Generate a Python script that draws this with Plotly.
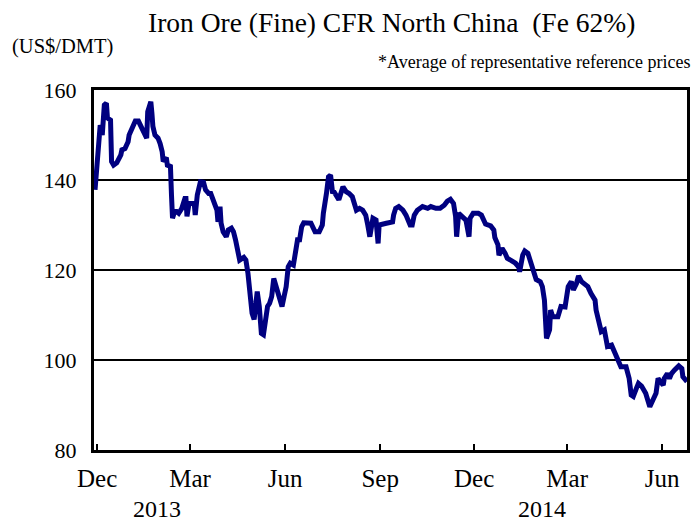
import pandas as pd
import plotly.graph_objects as go

# Day offsets from 2012-11-28 and price (US$/DMT)
day_offset = [1, 3, 5, 6, 8, 10, 12, 13, 16, 17, 19, 22, 26, 27, 30, 33, 34, 37, 40, 43, 46, 50, 51,
              52, 55, 56, 57, 59, 62, 64, 66, 67, 70, 71, 74, 75, 76, 78, 80, 82, 85, 88, 89, 90, 92,
              95, 97, 98, 100, 103, 106, 108, 111, 113, 115, 117, 119, 120, 122, 123, 125, 128, 130,
              133, 135, 137, 140, 141, 145, 147, 149, 151, 153, 155, 157, 158, 160, 162, 164, 166, 168,
              170, 172, 174, 176, 178, 181, 182, 184, 186, 188, 190, 193, 195, 197, 199, 201, 203, 207,
              210, 214, 218, 221, 222, 225, 227, 229, 231, 232, 237, 241, 244, 247, 250, 254, 257, 260,
              263, 265, 267, 270, 273, 275, 276, 283, 289, 290, 292, 295, 299, 302, 306, 308, 310, 313,
              318, 323, 326, 331, 335, 339, 342, 345, 348, 350, 351, 353, 356, 360, 363, 364, 367, 372,
              375, 379, 384, 387, 388, 391, 392, 395, 398, 400, 404, 408, 411, 412, 415, 417, 420, 423,
              425, 428, 432, 434, 436, 438, 441, 442, 444, 449, 452, 456, 457, 459, 462, 464, 467, 469,
              472, 475, 478, 481, 485, 486, 489, 491, 494, 497, 501, 504, 507, 510, 515, 518, 520, 522,
              525, 527, 530, 534, 536, 538, 541, 544, 546, 549, 551, 552, 555, 557, 559, 562, 566, 569,
              570, 574]
price = [137.8, 143.3, 149.3, 152.2, 150.0, 156.7, 157.1, 153.8, 153.3, 144.1, 143.3, 143.8, 145.6,
         146.7, 147.0, 148.5, 150.0, 151.9, 153.1, 153.1, 151.5, 149.3, 149.3, 155.2, 157.4, 155.0,
         151.9, 150.0, 149.3, 148.1, 146.3, 144.1, 145.0, 143.3, 143.0, 136.7, 131.5, 133.0, 133.0,
         132.6, 133.7, 135.9, 135.9, 131.9, 134.8, 134.8, 134.8, 132.2, 136.7, 139.6, 139.5, 137.8,
         137.0, 137.0, 135.6, 134.8, 133.3, 130.7, 134.1, 130.4, 128.5, 127.4, 128.9, 129.3, 128.5,
         126.7, 123.0, 122.2, 122.8, 122.2, 119.3, 114.8, 110.4, 109.0, 113.3, 115.2, 111.9, 105.9,
         105.6, 108.1, 111.9, 112.6, 114.1, 118.1, 116.3, 114.4, 111.9, 111.9, 114.1, 116.3, 120.7,
         121.5, 121.1, 123.7, 126.7, 126.7, 129.6, 130.5, 130.5, 130.4, 128.5, 128.5, 130.0, 132.6,
         137.0, 140.7, 141.1, 137.0, 137.5, 135.6, 138.5, 137.4, 137.0, 136.3, 133.3, 133.7, 133.3,
         132.2, 130.0, 127.4, 131.5, 131.1, 125.9, 130.0, 130.4, 130.7, 132.2, 133.7, 134.1, 133.3,
         132.2, 130.0, 130.0, 132.2, 133.3, 134.1, 133.7, 134.1, 133.7, 133.7, 134.4, 135.3, 135.7,
         134.8, 131.9, 127.4, 132.6, 131.9, 131.1, 127.4, 131.5, 132.6, 132.6, 132.2, 130.2, 129.8,
         128.9, 127.2, 125.6, 123.3, 124.8, 123.7, 122.6, 122.1, 121.5, 120.7, 119.6, 123.3, 124.2,
         123.7, 121.5, 119.3, 117.9, 117.4, 116.3, 113.3, 104.8, 106.7, 111.1, 109.6, 109.6, 111.9,
         111.8, 113.3, 116.3, 117.4, 115.6, 117.0, 118.7, 117.4, 117.0, 116.3, 114.8, 113.3, 111.1,
         108.5, 106.3, 106.7, 103.0, 103.3, 101.5, 99.6, 98.5, 98.5, 95.9, 92.2, 91.9, 93.7, 94.8,
         94.2, 92.6, 91.1, 89.6, 91.1, 92.6, 95.9, 94.8, 94.4, 95.9, 97.0, 95.9, 97.0, 97.8, 98.7,
         98.1, 96.3, 95.2]

start_date = "2012-11-28"
end_date = "2014-06-25"
tick_dates = ["2012-12-01", "2013-03-01", "2013-06-01", "2013-09-01",
              "2013-12-01", "2014-03-01", "2014-06-01"]
tick_labels = ["Dec", "Mar", "Jun", "Sep", "Dec", "Mar", "Jun"]
year_labels = ["2013", "2014"]
year_dates = ["2013-01-28", "2014-02-05"]

dates = pd.Timestamp(start_date) + pd.to_timedelta(day_offset, unit="D")

SERIF = "Liberation Serif, Times New Roman, serif"

# figure is drawn inside the page body (8px default margin)
W, H = 692, 514
L, R, T, B = 86, 10, 82, 72
PW, PH = W - L - R, H - T - B


def px(sx):
    return (sx - 8 - L) / PW


def py(sy):
    return (H - B - (sy - 8)) / PH


fig = go.Figure()
fig.add_trace(go.Scatter(x=dates, y=price, mode="lines",
                         line=dict(color="#000080", width=5),
                         hoverinfo="skip", showlegend=False))

fig.update_layout(
    width=W, height=H,
    margin=dict(l=L, r=R, t=T, b=B),
    paper_bgcolor="white", plot_bgcolor="white",
    font=dict(family=SERIF, color="black", size=22),
    xaxis=dict(range=[start_date, end_date], tickvals=tick_dates, ticktext=tick_labels,
               ticks="inside", ticklen=6, tickwidth=2, tickcolor="black",
               showline=True, linecolor="black", linewidth=3, mirror=True,
               showgrid=False, zeroline=False, tickfont=dict(size=25, family=SERIF),
               ticklabelstandoff=4),
    yaxis=dict(range=[80, 160], tickvals=[80, 100, 120, 140, 160],
               showline=True, linecolor="black", linewidth=3, mirror=True,
               showgrid=True, gridcolor="black", gridwidth=2, zeroline=False,
               ticks="", tickfont=dict(size=22, family=SERIF), ticklabelstandoff=10),
)

annotations = [
    dict(text="Iron Ore (Fine) CFR North China\u00a0\u00a0(Fe 62%)", x=393, y=22, size=27.5),
    dict(text="(US$/DMT)", x=62, y=47, size=20.5),
    dict(text="*Average of representative reference prices", x=536, y=62, size=18),
]
for a in annotations:
    fig.add_annotation(text=a["text"], xref="paper", yref="paper",
                       x=px(a["x"]), y=py(a["y"]),
                       showarrow=False, font=dict(size=a["size"], family=SERIF),
                       xanchor="center", yanchor="middle")

for lbl, d in zip(year_labels, year_dates):
    fig.add_annotation(text=lbl, x=d, xref="x", yref="paper", y=py(509),
                       showarrow=False, font=dict(size=24, family=SERIF),
                       xanchor="center", yanchor="middle")

fig.write_html("out.html")
